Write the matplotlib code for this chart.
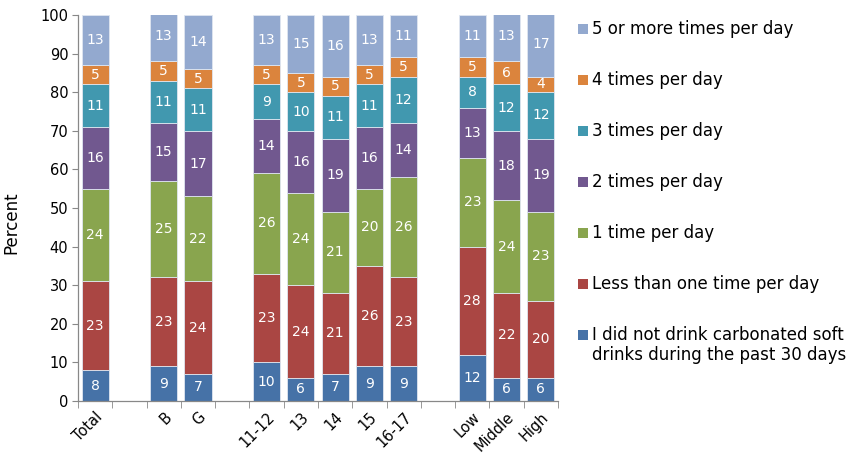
import matplotlib
matplotlib.use("Agg")
import matplotlib.pyplot as plt
from matplotlib.patches import Rectangle
import numpy as np

# Category groups (a blank slot separates each group on the axis)
groups = [
    ["Total"],
    ["B", "G"],
    ["11-12", "13", "14", "15", "16-17"],
    ["Low", "Middle", "High"],
]

# Series, bottom to top of each stack (percent)
series_labels = [
    "I did not drink carbonated soft\ndrinks during the past 30 days",
    "Less than one time per day",
    "1 time per day",
    "2 times per day",
    "3 times per day",
    "4 times per day",
    "5 or more times per day",
]
series_colors = ["#4672A7", "#AA4643", "#89A54E", "#71588F", "#4198AF", "#DB843D", "#93A9CF"]

not_drink   = [8, 9, 7, 10, 6, 7, 9, 9, 12, 6, 6]
less_once   = [23, 23, 24, 23, 24, 21, 26, 23, 28, 22, 20]
once        = [24, 25, 22, 26, 24, 21, 20, 26, 23, 24, 23]
twice       = [16, 15, 17, 14, 16, 19, 16, 14, 13, 18, 19]
three_times = [11, 11, 11, 9, 10, 11, 11, 12, 8, 12, 12]
four_times  = [5, 5, 5, 5, 5, 5, 5, 5, 5, 6, 4]
five_plus   = [13, 13, 14, 13, 15, 16, 13, 11, 11, 13, 17]

series_values = [not_drink, less_once, once, twice, three_times, four_times, five_plus]

# Slot positions: one slot per category, one empty slot between groups
categories, positions = [], []
slot = 0
for gi, g in enumerate(groups):
    if gi > 0:
        slot += 1
    for c in g:
        categories.append(c)
        positions.append(slot)
        slot += 1
n_slots = slot
positions = np.array(positions, dtype=float)

W, H = 856, 462
fig = plt.figure(figsize=(W / 100, H / 100), dpi=100)
ax = fig.add_axes([78 / W, 1 - 401 / H, 480 / W, 386 / H])

bottom = np.zeros(len(categories))
for vals, color in zip(series_values, series_colors):
    vals = np.array(vals, dtype=float)
    ax.bar(positions, vals, bottom=bottom, width=0.79, color=color,
           edgecolor="#dfe6f0", linewidth=0.6, zorder=2)
    for x, b, v in zip(positions, bottom, vals):
        ax.text(x, b + v / 2, f"{int(v)}", ha="center", va="center",
                color="white", fontsize=10, family="DejaVu Sans", zorder=3)
    bottom += vals

ax.set_xlim(-0.5, n_slots - 0.5)
ax.set_ylim(0, 100)
ax.set_yticks(np.arange(0, 101, 10))
ax.tick_params(axis="y", labelsize=10.5, direction="out", length=4,
               color="#888888", pad=3)

ax.set_xticks(positions)
ax.set_xticklabels(categories, rotation=45, ha="right", va="top",
                   rotation_mode="anchor", fontsize=10.5)
ax.tick_params(axis="x", which="major", length=0, pad=6)
ax.set_xticks(np.arange(-0.5, n_slots, 1.0), minor=True)
ax.tick_params(axis="x", which="minor", length=5, direction="out", color="#888888")

for side in ("top", "right"):
    ax.spines[side].set_visible(False)
for side in ("left", "bottom"):
    ax.spines[side].set_color("#888888")
    ax.spines[side].set_linewidth(0.9)

ax.set_ylabel("Percent", fontsize=12)
ax.yaxis.set_label_coords(-0.121, 0.461)

# Legend drawn top to bottom in reverse stacking order
y0, step = 29, 51
for k, (label, color) in enumerate(zip(series_labels[::-1], series_colors[::-1])):
    yc = y0 + step * k
    fig.patches.append(Rectangle((578 / W, 1 - (yc + 5) / H), 10 / W, 10 / H,
                                 transform=fig.transFigure, facecolor=color,
                                 edgecolor="none"))
    for j, line in enumerate(label.split("\n")):
        fig.text(592 / W, 1 - (yc + 20 * j) / H, line, ha="left", va="center",
                 fontsize=12, family="DejaVu Sans")

fig.savefig("out.png", dpi=100)
